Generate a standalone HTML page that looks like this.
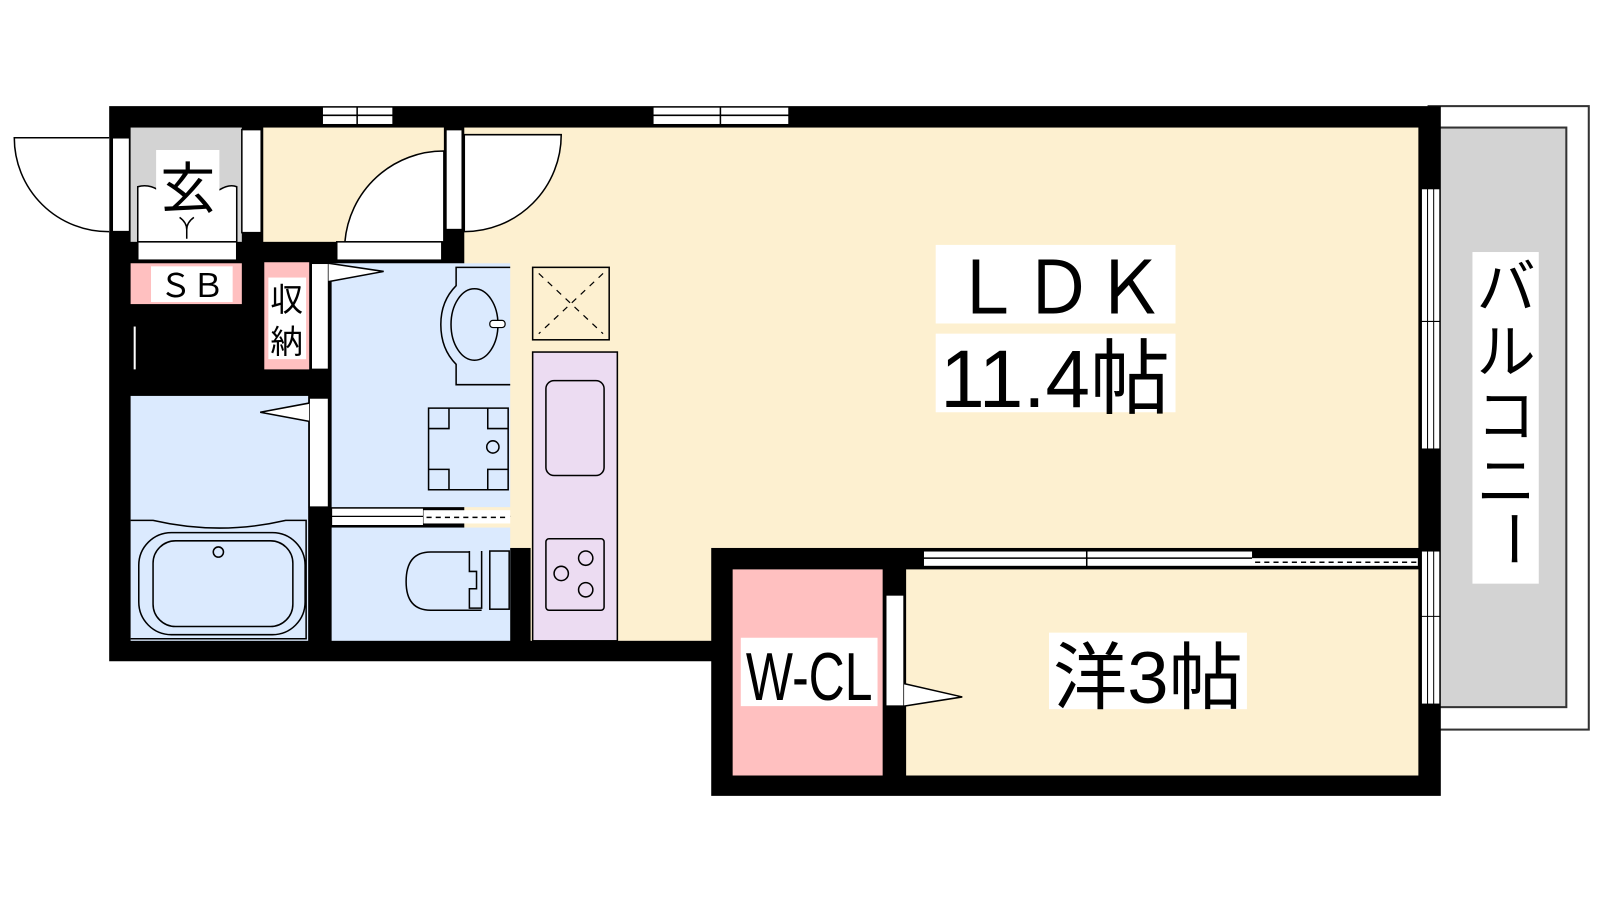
<!DOCTYPE html>
<html><head><meta charset="utf-8"><style>
html,body{margin:0;padding:0;background:#fff;width:1600px;height:900px;overflow:hidden}
svg{display:block}
text{font-family:"Liberation Sans","Noto Sans CJK JP",sans-serif;fill:#000}
</style></head><body>
<svg width="1600" height="900" viewBox="0 0 1568 882" xmlns="http://www.w3.org/2000/svg">
<!-- balcony -->
<rect x="1400" y="104" width="157" height="611" fill="#fff" stroke="#333" stroke-width="2"/>
<rect x="1400" y="125" width="135" height="568" fill="#d3d3d3" stroke="#333" stroke-width="2"/>
<!-- walls -->
<path d="M107,104 H1412 V780 H697 V648 H107 Z" fill="#000"/>
<!-- LDK -->
<rect x="455" y="125" width="935" height="412" fill="#fdf0d0"/>
<rect x="520" y="237" width="177" height="391" fill="#fdf0d0"/>
<rect x="258" y="125" width="177" height="112" fill="#fdf0d0"/>
<!-- genkan -->
<rect x="128" y="125" width="109" height="112" fill="#d3d3d3"/>
<path d="M135,237 V183 Q145,180 155,186 H215 Q225,180 232,183 V237 Z" fill="#fff" stroke="#000" stroke-width="1.5"/>
<rect x="153" y="147" width="62" height="63" fill="#fff"/>
<text x="184" y="204" font-size="54" text-anchor="middle">玄</text>
<path d="M176,213 Q183,218 183,225 Q183,218 190,213 M183,225 V234" fill="none" stroke="#000" stroke-width="1.5"/>
<rect x="135" y="237" width="97" height="18" fill="#fff" stroke="#000" stroke-width="1.5"/>
<rect x="237" y="127" width="19" height="101" fill="#fff" stroke="#000" stroke-width="1.5"/>
<!-- entry door -->
<path d="M107,135 H14 A92,92 0 0 0 107,227" fill="#fff" stroke="#000" stroke-width="1.5"/>
<rect x="110" y="135" width="17" height="92" fill="#fff" stroke="#000" stroke-width="1.5"/>
<!-- SB -->
<rect x="128" y="258" width="109" height="40" fill="#ffc0c0"/>
<rect x="148" y="261" width="80" height="35" fill="#fff"/>
<text x="188" y="291" font-size="32" text-anchor="middle">ＳＢ</text>
<line x1="132" y1="320" x2="132" y2="362" stroke="#fff" stroke-width="2"/>
<!-- shuno -->
<rect x="259" y="257" width="44" height="105" fill="#ffc0c0"/>
<rect x="263" y="272" width="37" height="80" fill="#fff"/>
<text x="281" y="305" font-size="32" text-anchor="middle">収</text>
<text x="281" y="346" font-size="32" text-anchor="middle">納</text>
<rect x="305" y="258" width="17" height="104" fill="#fff" stroke="#000" stroke-width="1.5"/>
<!-- washroom -->
<rect x="325" y="258" width="175" height="239" fill="#dbeafe"/>
<path d="M322,258 L376,266 L322,276" fill="#fff" stroke="#000" stroke-width="1.5"/>
<path d="M500,262 H447 V280 Q432,295 432,318 Q432,342 447,357 V377 H500" fill="none" stroke="#000" stroke-width="1.5"/>
<ellipse cx="465" cy="318" rx="23" ry="35" fill="none" stroke="#000" stroke-width="1.5"/>
<rect x="480" y="314" width="15" height="7" rx="3" fill="#fff" stroke="#000" stroke-width="1.2"/>
<path d="M420,400 H498 V480 H420 Z M420,420 H440 V400 M478,400 V420 H498 M420,460 H440 V480 M478,480 V460 H498" fill="none" stroke="#000" stroke-width="1.5"/>
<circle cx="483" cy="438" r="6" fill="none" stroke="#000" stroke-width="1.5"/>
<!-- sliding wash/toilet -->
<rect x="325" y="498" width="90" height="17" fill="#fff" stroke="#000" stroke-width="1"/>
<line x1="325" y1="506" x2="500" y2="506" stroke="#000" stroke-width="1.2"/>
<rect x="415" y="500" width="85" height="13" fill="#fff"/>
<line x1="418" y1="507" x2="498" y2="507" stroke="#000" stroke-width="1.5" stroke-dasharray="5,4"/>
<!-- bath -->
<rect x="128" y="388" width="174" height="240" fill="#dbeafe"/>
<rect x="303" y="390" width="19" height="107" fill="#fff" stroke="#000" stroke-width="1.5"/>
<path d="M303,395 L255,404 L303,413" fill="#fff" stroke="#000" stroke-width="1.5"/>
<path d="M128,510 H150 Q215,525 280,510 H300 V626 H128" fill="none" stroke="#000" stroke-width="1.5"/>
<rect x="136" y="522" width="163" height="100" rx="32" fill="none" stroke="#000" stroke-width="1.5"/>
<rect x="150" y="530" width="137" height="84" rx="22" fill="none" stroke="#000" stroke-width="1.5"/>
<circle cx="214" cy="541" r="5" fill="none" stroke="#000" stroke-width="1.5"/>
<!-- toilet -->
<rect x="325" y="517" width="175" height="111" fill="#dbeafe"/>
<path d="M472,541 H422 Q398,541 398,570 Q398,598 422,598 H472" fill="none" stroke="#000" stroke-width="1.5"/>
<path d="M472,540 V596 H460 V577 H467 V560 H460 V540" fill="#dbeafe" stroke="#000" stroke-width="1.5"/>
<rect x="480" y="540" width="19" height="57" fill="none" stroke="#000" stroke-width="1.5"/>
<!-- doors cream area -->
<path d="M435,148 A97,97 0 0 0 338,237 H435 Z" fill="#fff" stroke="#000" stroke-width="1.5"/>
<rect x="330" y="237" width="103" height="18" fill="#fff" stroke="#000" stroke-width="1.5"/>
<rect x="437" y="127" width="16" height="98" fill="#fff" stroke="#000" stroke-width="1.5"/>
<path d="M455,132 H550 A95,95 0 0 1 455,227 Z" fill="#fff" stroke="#000" stroke-width="1.5"/>
<!-- kitchen -->
<rect x="522" y="262" width="75" height="71" fill="#fdf0d0" stroke="#000" stroke-width="1.5"/>
<path d="M528,268 L591,327 M591,268 L528,327" stroke="#000" stroke-width="1.2" stroke-dasharray="6,6"/>
<rect x="522" y="345" width="83" height="283" fill="#ecdcf2" stroke="#000" stroke-width="1.5"/>
<rect x="535" y="373" width="57" height="93" rx="8" fill="none" stroke="#000" stroke-width="1.5"/>
<rect x="535" y="528" width="57" height="70" rx="3" fill="none" stroke="#000" stroke-width="1.5"/>
<circle cx="574" cy="547" r="7" fill="none" stroke="#000" stroke-width="1.5"/>
<circle cx="550" cy="562" r="7" fill="none" stroke="#000" stroke-width="1.5"/>
<circle cx="574" cy="578" r="7" fill="none" stroke="#000" stroke-width="1.5"/>
<!-- top windows -->
<rect x="316" y="105" width="69" height="17" fill="#fff" stroke="#000" stroke-width="1"/>
<line x1="316" y1="113" x2="385" y2="113" stroke="#000" stroke-width="1.5"/>
<line x1="350" y1="105" x2="350" y2="122" stroke="#000" stroke-width="1.5"/>
<rect x="640" y="105" width="133" height="17" fill="#fff" stroke="#000" stroke-width="1"/>
<line x1="640" y1="113" x2="773" y2="113" stroke="#000" stroke-width="1.5"/>
<line x1="706" y1="105" x2="706" y2="122" stroke="#000" stroke-width="1.5"/>
<!-- right windows -->
<rect x="1393" y="185" width="18" height="255" fill="#fff" stroke="#000" stroke-width="1"/>
<line x1="1399" y1="185" x2="1399" y2="440" stroke="#000" stroke-width="1"/>
<line x1="1405" y1="185" x2="1405" y2="440" stroke="#000" stroke-width="1"/>
<line x1="1393" y1="315" x2="1411" y2="315" stroke="#000" stroke-width="1"/>
<rect x="1393" y="540" width="18" height="150" fill="#fff" stroke="#000" stroke-width="1"/>
<line x1="1399" y1="540" x2="1399" y2="690" stroke="#000" stroke-width="1"/>
<line x1="1405" y1="540" x2="1405" y2="690" stroke="#000" stroke-width="1"/>
<line x1="1393" y1="604" x2="1411" y2="604" stroke="#000" stroke-width="1"/>
<!-- W-CL & yo -->
<rect x="718" y="558" width="147" height="202" fill="#ffc0c0"/>
<rect x="888" y="558" width="502" height="202" fill="#fdf0d0"/>
<rect x="905" y="540" width="485" height="15" fill="#fff" stroke="#000" stroke-width="1"/>
<line x1="905" y1="547" x2="1227" y2="547" stroke="#000" stroke-width="1.5"/>
<line x1="1065" y1="540" x2="1065" y2="555" stroke="#000" stroke-width="1.5"/>
<rect x="1227" y="540" width="163" height="7" fill="#000"/>
<line x1="1230" y1="551" x2="1388" y2="551" stroke="#000" stroke-width="1.5" stroke-dasharray="5,4"/>
<rect x="868" y="583" width="18" height="109" fill="#fff" stroke="#000" stroke-width="1.5"/>
<path d="M886,670 L943,683 L886,692" fill="#fff" stroke="#000" stroke-width="1.5"/>
<rect x="726" y="625" width="134" height="67" fill="#fff"/>
<text x="793" y="686" font-size="66" text-anchor="middle" textLength="124" lengthAdjust="spacingAndGlyphs">W-CL</text>
<rect x="1028" y="620" width="194" height="75" fill="#fff"/>
<text x="1125" y="689" font-size="72" text-anchor="middle" textLength="186" lengthAdjust="spacingAndGlyphs">洋3帖</text>
<!-- LDK labels -->
<rect x="917" y="240" width="235" height="77" fill="#fff"/>
<text x="1037" y="307" font-size="72" text-anchor="middle" textLength="210" lengthAdjust="spacingAndGlyphs">ＬＤＫ</text>
<rect x="917" y="327" width="235" height="77" fill="#fff"/>
<text x="1034" y="399" font-size="80" text-anchor="middle" textLength="225" lengthAdjust="spacingAndGlyphs">11.4帖</text>
<!-- balcony label -->
<rect x="1443" y="247" width="65" height="325" fill="#fff"/>
<text x="1476" y="302" font-size="58" text-anchor="middle">バ</text>
<text x="1476" y="365" font-size="58" text-anchor="middle">ル</text>
<text x="1476" y="428" font-size="58" text-anchor="middle">コ</text>
<text x="1476" y="492" font-size="58" text-anchor="middle">ニ</text>
<text x="1476" y="542" font-size="58" text-anchor="middle" transform="rotate(90 1476 528)">ー</text>
</svg>
</body></html>
